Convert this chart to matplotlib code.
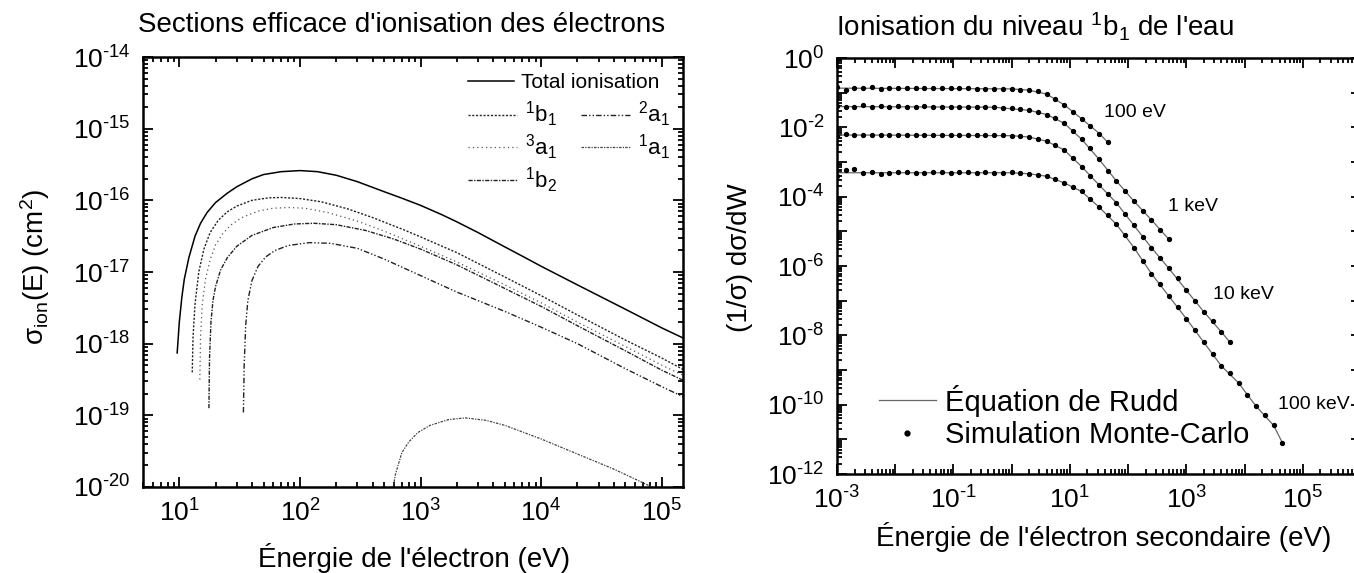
import matplotlib
matplotlib.use("Agg")
import matplotlib.pyplot as plt
from matplotlib.ticker import LogLocator, FuncFormatter, NullFormatter
from matplotlib.lines import Line2D
import numpy as np

plt.rcParams['font.family'] = ['Liberation Sans', 'DejaVu Sans']
plt.rcParams['mathtext.fontset'] = 'custom'
plt.rcParams['mathtext.rm'] = 'Liberation Sans'
plt.rcParams['mathtext.it'] = 'Liberation Sans:italic'
plt.rcParams['mathtext.bf'] = 'Liberation Sans:bold'
plt.rcParams['axes.unicode_minus'] = False

# ---- left panel: ionisation cross sections, E in eV, log10(sigma / cm^2) ----
total_E = [9.6, 10, 10.5, 11, 12, 13.5, 15, 17, 20, 25, 30, 40, 50, 70, 100, 140, 200,
           300, 500, 700, 1000, 1500, 2000, 3000, 5000, 7000, 1e4, 2e4, 5e4, 1e5, 1.5e5]
total_s = [-18.13, -17.7, -17.35, -17.1, -16.8, -16.5, -16.32, -16.17, -16.03, -15.9,
           -15.81, -15.7, -15.64, -15.6, -15.585, -15.6, -15.65, -15.74, -15.88, -15.97,
           -16.07, -16.2, -16.3, -16.45, -16.65, -16.78, -16.92, -17.18, -17.52, -17.78,
           -17.92]

b1_E = [12.8, 13, 13.5, 14.5, 16, 18, 21, 25, 30, 40, 55, 70, 100, 150, 250, 400, 700,
        1000, 2000, 5000, 1e4, 2e4, 5e4, 1e5, 1.5e5]
b1_s = [-18.4, -17.9, -17.45, -17.0, -16.68, -16.45, -16.28, -16.16, -16.08, -16.0,
        -15.965, -15.96, -15.975, -16.02, -16.12, -16.24, -16.4, -16.51, -16.73, -17.07,
        -17.33, -17.6, -17.95, -18.2, -18.36]

a3_E = [14.8, 15, 15.5, 16.5, 18, 20, 23, 27, 33, 45, 60, 80, 110, 170, 300, 500, 1000,
        2000, 5000, 1e4, 2e4, 5e4, 1e5, 1.5e5]
a3_s = [-18.5, -17.9, -17.45, -17.1, -16.83, -16.62, -16.46, -16.34, -16.24, -16.15,
        -16.11, -16.1, -16.11, -16.17, -16.29, -16.43, -16.64, -16.86, -17.18, -17.43,
        -17.7, -18.04, -18.3, -18.44]

b2_E = [17.6, 17.8, 18.3, 19, 20, 22, 25, 30, 40, 60, 90, 130, 200, 350, 600, 1000, 2000,
        5000, 1e4, 2e4, 5e4, 1e5, 1.5e5]
b2_s = [-18.9, -18.2, -17.7, -17.4, -17.2, -16.97, -16.8, -16.64, -16.49, -16.38, -16.33,
        -16.32, -16.34, -16.42, -16.54, -16.68, -16.9, -17.23, -17.48, -17.75, -18.1,
        -18.37, -18.51]

a2_E = [34, 34.5, 35.5, 37, 40, 45, 52, 62, 80, 120, 180, 300, 500, 1000, 2000, 5000,
        1e4, 2e4, 5e4, 1e5, 1.5e5]
a2_s = [-18.96, -18.3, -17.75, -17.4, -17.12, -16.92, -16.79, -16.7, -16.63, -16.59,
        -16.6, -16.67, -16.82, -17.05, -17.28, -17.55, -17.77, -18.0, -18.35, -18.6,
        -18.74]

a1_E = [580, 620, 700, 800, 950, 1200, 1700, 2350, 3500, 5000, 1e4, 2e4, 4e4, 8.3e4, 1e5]
a1_s = [-20.1, -19.82, -19.52, -19.37, -19.24, -19.14, -19.06, -19.036, -19.07, -19.14,
        -19.33, -19.54, -19.75, -20.0, -20.07]

# ---- right panel: secondary electron spectra, log10 values ----
logW = [-3.0, -2.85, -2.7, -2.55, -2.4, -2.25, -2.1, -1.95, -1.8, -1.65, -1.5, -1.35,
        -1.2, -1.05, -0.9, -0.75, -0.6, -0.45, -0.3, -0.15, 0.0, 0.15, 0.3, 0.45, 0.6,
        0.75, 0.9, 1.05, 1.2, 1.35, 1.5, 1.65, 1.8, 1.95, 2.1, 2.25, 2.4, 2.55, 2.7,
        2.85, 3.0, 3.15, 3.3, 3.45, 3.6, 3.75, 3.9, 4.05, 4.2, 4.35, 4.5, 4.65]

mc_100eV = [-0.84, -0.93, -0.87, -0.86, -0.85, -0.88, -0.87, -0.87, -0.86, -0.87, -0.87,
            -0.86, -0.87, -0.87, -0.87, -0.87, -0.88, -0.88, -0.88, -0.89, -0.90, -0.91,
            -0.93, -0.95, -1.05, -1.19, -1.36, -1.56, -1.75, -1.95, -2.18, -2.43]
mc_1keV = [-1.38, -1.41, -1.40, -1.37, -1.40, -1.39, -1.40, -1.38, -1.40, -1.40, -1.39,
           -1.40, -1.40, -1.40, -1.40, -1.40, -1.41, -1.41, -1.42, -1.43, -1.44, -1.47,
           -1.51, -1.56, -1.63, -1.73, -1.88, -2.10, -2.34, -2.60, -2.92, -3.25, -3.55,
           -3.85, -4.13, -4.40, -4.67, -4.95, -5.23]
mc_10keV = [-2.24, -2.20, -2.23, -2.22, -2.22, -2.21, -2.23, -2.22, -2.22, -2.21, -2.22,
            -2.22, -2.21, -2.22, -2.22, -2.23, -2.22, -2.22, -2.23, -2.23, -2.24, -2.25,
            -2.28, -2.33, -2.40, -2.50, -2.65, -2.88, -3.13, -3.40, -3.66, -3.92, -4.18,
            -4.50, -4.83, -5.15, -5.47, -5.77, -6.07, -6.36, -6.70, -7.02, -7.32, -7.60,
            -7.90, -8.20]
mc_100keV = [-3.40, -3.22, -3.20, -3.33, -3.30, -3.34, -3.31, -3.30, -3.28, -3.33, -3.31,
             -3.30, -3.29, -3.32, -3.30, -3.28, -3.31, -3.30, -3.33, -3.31, -3.30, -3.32,
             -3.34, -3.37, -3.41, -3.50, -3.60, -3.72, -3.85, -4.06, -4.30, -4.52, -4.80,
             -5.10, -5.47, -5.85, -6.22, -6.53, -6.86, -7.19, -7.52, -7.85, -8.20, -8.55,
             -8.88, -9.08, -9.38, -9.72, -10.05, -10.30, -10.60, -11.10]

rudd_W = {
    '100 eV': [-3, 0, 0.3, 0.6, 0.9, 1.2, 1.5, 1.65],
    '1 keV': [-3, -0.3, 0.3, 0.6, 0.9, 1.2, 1.5, 1.8, 2.1, 2.4, 2.7],
    '10 keV': [-3, 0, 0.3, 0.6, 0.9, 1.2, 1.5, 1.8, 2.1, 2.4, 2.7, 3.0, 3.3, 3.6, 3.75],
    '100 keV': [-3, 0, 0.3, 0.6, 0.9, 1.2, 1.5, 1.8, 2.1, 2.4, 2.7, 3.0, 3.3, 3.6, 3.9,
                4.2, 4.5, 4.65],
}
rudd_y = {
    '100 eV': [-0.87, -0.89, -0.93, -1.04, -1.35, -1.75, -2.17, -2.43],
    '1 keV': [-1.40, -1.42, -1.51, -1.63, -1.88, -2.34, -2.92, -3.55, -4.13, -4.67, -5.23],
    '10 keV': [-2.22, -2.24, -2.28, -2.40, -2.65, -3.13, -3.66, -4.18, -4.83, -5.47, -6.07,
               -6.70, -7.32, -7.90, -8.20],
    '100 keV': [-3.31, -3.31, -3.34, -3.41, -3.60, -3.85, -4.30, -4.80, -5.47, -6.22, -6.87,
                -7.52, -8.20, -8.88, -9.38, -10.05, -10.60, -11.10],
}
energy_labels = ['100 eV', '1 keV', '10 keV', '100 keV']
label_pos = [(131, 2.6e-2), (1290, 5.1e-5), (9700, 1.5e-7), (1.55e5, 1.0e-10)]


def exp_label(e):
    if e < 0:
        return r'$\mathregular{10^{\text{-}%d}}$' % (-e)
    return r'$\mathregular{10^{%d}}$' % e


def style_axis(ax, xlim, ylim, xlab_keep=None, ylab_keep=None):
    ax.set_xlim(*xlim)
    ax.set_ylim(*ylim)
    for s in ax.spines.values():
        s.set_linewidth(1.8)
    ax.tick_params(which='both', direction='in', top=True, right=True, width=1.3,
                   labelsize=19, pad=9)
    ax.tick_params(which='major', length=7)
    ax.tick_params(which='minor', length=3.5)
    ax.xaxis.set_major_locator(LogLocator(base=10, numticks=30))
    ax.yaxis.set_major_locator(LogLocator(base=10, numticks=30))
    ax.xaxis.set_minor_locator(LogLocator(base=10, subs=np.arange(2, 10), numticks=30))
    ax.yaxis.set_minor_locator(LogLocator(base=10, subs=np.arange(2, 10), numticks=30))
    ax.xaxis.set_minor_formatter(NullFormatter())
    ax.yaxis.set_minor_formatter(NullFormatter())

    def make_fmt(lim, keep):
        lo, hi = np.log10(lim[0]) - 1e-6, np.log10(lim[1]) + 1e-6

        def f(v, pos):
            lv = np.log10(v)
            if lv < lo or lv > hi:
                return ''
            e = int(round(lv))
            if keep is not None and not keep(e):
                return ''
            return exp_label(e)
        return f

    ax.xaxis.set_major_formatter(FuncFormatter(make_fmt(xlim, xlab_keep)))
    ax.yaxis.set_major_formatter(FuncFormatter(make_fmt(ylim, ylab_keep)))


fig = plt.figure(figsize=(13.54, 5.73), dpi=100)

# ---------------- left ----------------
ax1 = fig.add_axes([143 / 1354, 1 - 487 / 573, 540 / 1354, 430 / 573])
ax1.set_xscale('log')
ax1.set_yscale('log')
lc = '#222222'
series = [
    (total_E, total_s, dict(color='black', lw=1.1), 'Total ionisation'),
    (b1_E, b1_s, dict(color=lc, lw=1.0, ls=(0, (1.5, 1.2))), r'$\mathregular{^1b_1}$'),
    (a3_E, a3_s, dict(color='#555555', lw=0.9, ls=(0, (1, 2.5))), r'$\mathregular{^3a_1}$'),
    (b2_E, b2_s, dict(color=lc, lw=1.0, ls=(0, (3, 1, 1, 1))), r'$\mathregular{^1b_2}$'),
    (a2_E, a2_s, dict(color=lc, lw=1.0, ls=(0, (4, 1.5, 1, 1.5, 1, 1.5))), r'$\mathregular{^2a_1}$'),
    (a1_E, a1_s, dict(color='#444444', lw=0.9, ls=(0, (2, 1, 1, 1))), r'$\mathregular{^1a_1}$'),
]
for E, s, kw, lab in series:
    ax1.plot(E, 10.0 ** np.array(s), label=lab, **kw)
style_axis(ax1, (5, 1.5e5), (1e-20, 1e-14))

h, l = ax1.get_legend_handles_labels()
leg1 = ax1.legend([h[0]], [l[0]], loc='center left', bbox_to_anchor=(0.602, 0.94),
                  frameon=False, fontsize=15, handlelength=2.2, handletextpad=0.35,
                  borderpad=0, borderaxespad=0)
ax1.add_artist(leg1)
order = [1, 2, 3, 4, 5]
ax1.legend([h[i] for i in order], [l[i] for i in order], loc='upper left',
           bbox_to_anchor=(0.602, 0.9), ncol=2, frameon=False, fontsize=16,
           handlelength=2.2, handletextpad=0.35, borderpad=0, borderaxespad=0,
           columnspacing=1.1, labelspacing=0.15)

fig.text(402 / 1354, 1 - 25 / 573, "Sections efficace d'ionisation des électrons",
         ha='center', va='center', fontsize=20)
fig.text(414 / 1354, 1 - 558 / 573, "Énergie de l'électron (eV)",
         ha='center', va='center', fontsize=20)
fig.text(35 / 1354, 1 - 267 / 573, r'$\mathregular{σ_{ion}(E)\ (cm^2)}$',
         ha='center', va='center', rotation=90, fontsize=20)

# ---------------- right ----------------
ax2 = fig.add_axes([837 / 1354, 1 - 474 / 573, 524 / 1354, 416 / 573])
ax2.set_xscale('log')
ax2.set_yscale('log')
W = 10.0 ** np.array(logW)
for key, mc in zip(energy_labels, [mc_100eV, mc_1keV, mc_10keV, mc_100keV]):
    ax2.plot(10.0 ** np.array(rudd_W[key]), 10.0 ** np.array(rudd_y[key]),
             color='#666666', lw=0.9, zorder=2)
    ax2.plot(W[:len(mc)], 10.0 ** np.array(mc), ls='none', marker='o', ms=2.8,
             color='black', zorder=3)
for key, (x, y) in zip(energy_labels, label_pos):
    ax2.text(x, y, key, ha='center', va='center', fontsize=14)
style_axis(ax2, (1e-3, 1e6), (1e-12, 1),
           xlab_keep=lambda e: e % 2 != 0 and e <= 5, ylab_keep=lambda e: e % 2 == 0)

handles = [Line2D([], [], color='#666666', lw=0.9),
           Line2D([], [], ls='none', marker='o', ms=3.5, color='black')]
ax2.legend(handles, ['Équation de Rudd', 'Simulation Monte-Carlo'], loc='upper left',
           bbox_to_anchor=(0.08, 0.215), frameon=False, fontsize=21, handlelength=1.95,
           handletextpad=0.3, borderpad=0, borderaxespad=0, labelspacing=0.15,
           numpoints=1)

fig.text(1035 / 1354, 1 - 27 / 573, r"Ionisation du niveau $\mathregular{^1b_1}$ de l'eau",
         ha='center', va='center', fontsize=20)
fig.text(1104 / 1354, 1 - 537 / 573, "Énergie de l'électron secondaire (eV)",
         ha='center', va='center', fontsize=20)
fig.text(740 / 1354, 1 - 258 / 573, '(1/σ) dσ/dW',
         ha='center', va='center', rotation=90, fontsize=20)

fig.savefig('out.png', dpi=100)
